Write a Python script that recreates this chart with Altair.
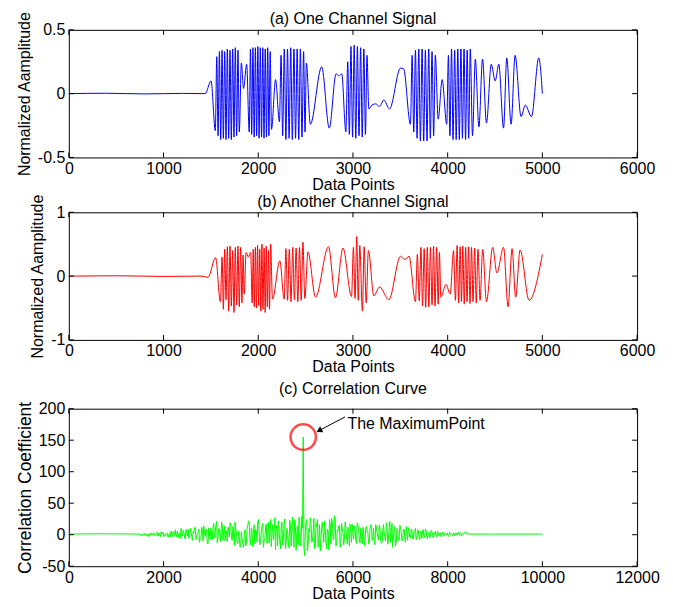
import altair as alt
import pandas as pd

FONT = "Liberation Sans"

# ---------------- (a) One Channel Signal: extrema ----------------
A_X = [0, 400, 800, 1200, 1440, 1502, 1547,
       1562, 1576, 1590, 1604, 1618, 1632, 1646, 1660, 1674, 1688, 1702, 1716, 1730, 1744, 1758, 1772, 1786, 1800,
       1822, 1845, 1878, 1905,
       1918, 1931, 1944, 1957, 1970, 1983, 1996, 2009, 2022, 2035, 2048, 2061, 2074, 2087, 2100, 2113, 2126, 2140,
       2183, 2224,
       2241, 2258, 2275, 2292, 2309, 2326, 2343, 2360, 2377, 2394, 2411, 2428, 2445, 2462, 2479, 2494, 2508, 2550,
       2670, 2750, 2822, 2852, 2882, 2925,
       2945, 2962, 2979, 2996, 3013, 3030, 3047, 3064, 3081, 3098, 3115, 3132, 3148, 3168,
       3200, 3240, 3280, 3326, 3386, 3502, 3535, 3607,
       3625, 3642, 3660, 3677, 3695, 3712, 3730, 3747, 3765, 3782, 3800, 3817, 3835, 3852, 3870, 3900, 3942, 3990,
       4008, 4024, 4041, 4057, 4074, 4090, 4107, 4123, 4140, 4156, 4173, 4189, 4206, 4222, 4239, 4262,
       4292, 4330, 4368, 4410, 4460, 4502, 4540, 4590, 4624, 4670, 4712, 4775, 4820, 4885, 4962, 5000]
A_Y = [0.0, 0.003, -0.002, 0.002, 0.0, 0.10, -0.29,
       0.29, -0.33, 0.33, -0.36, 0.34, -0.35, 0.33, -0.36, 0.35, -0.35, 0.34, -0.36, 0.35, -0.34, 0.36, -0.33, 0.34, -0.30,
       0.24, 0.04, 0.23, -0.30,
       0.35, -0.32, 0.36, -0.34, 0.36, -0.33, 0.37, -0.35, 0.36, -0.34, 0.36, -0.35, 0.35, -0.34, 0.36, -0.33, 0.33, -0.28,
       0.11, -0.22,
       0.30, -0.33, 0.35, -0.36, 0.35, -0.35, 0.36, -0.36, 0.35, -0.35, 0.35, -0.36, 0.35, -0.34, 0.33, -0.30, 0.24, -0.24,
       0.21, -0.27, 0.155, 0.14, 0.155, -0.30,
       0.25, -0.32, 0.37, -0.34, 0.38, -0.35, 0.37, -0.33, 0.36, -0.34, 0.35, -0.32, 0.30, -0.12,
       -0.09, -0.08, -0.10, -0.05, -0.12, 0.20, 0.195, -0.24,
       0.30, -0.30, 0.34, -0.35, 0.35, -0.37, 0.35, -0.37, 0.34, -0.37, 0.35, -0.35, 0.33, -0.33, 0.30, -0.20, 0.11, -0.24,
       0.30, -0.33, 0.35, -0.36, 0.34, -0.36, 0.35, -0.36, 0.35, -0.35, 0.35, -0.36, 0.34, -0.35, 0.35, -0.33,
       0.27, -0.26, 0.27, -0.23, 0.23, 0.10, 0.23, -0.27, 0.28, -0.24, 0.30, -0.18, -0.09, -0.18, 0.28, 0.0]

# ---------------- (b) Another Channel Signal ----------------
B_X = [0, 500, 1000, 1400, 1470, 1550, 1600,
       1618, 1632, 1646, 1660, 1674, 1688, 1702, 1716, 1730, 1744, 1758, 1772, 1786, 1800, 1814, 1828, 1840, 1852,
       1872, 1895, 1920, 1936,
       1947, 1958, 1970, 1981, 1993, 2004, 2016, 2027, 2039, 2050, 2062, 2073, 2085, 2096, 2108, 2119, 2131, 2150,
       2228, 2274,
       2292, 2310, 2328, 2346, 2364, 2382, 2400, 2418, 2436, 2454, 2472, 2492, 2525, 2605, 2742, 2815, 2895, 2985,
       3005, 3022, 3040, 3056, 3072, 3100, 3118, 3140, 3163, 3221, 3281, 3379, 3502, 3547, 3592, 3660,
       3680, 3700, 3718, 3735, 3752, 3768, 3785, 3802, 3818, 3835, 3851, 3867, 3884, 3900, 3913, 3928, 3982, 4027,
       4062, 4082, 4100, 4116, 4132, 4146, 4160, 4175, 4190, 4205, 4220, 4236, 4252, 4268, 4285, 4302, 4320, 4342,
       4370, 4410, 4475, 4520, 4590, 4638, 4680, 4718, 4765, 4860, 5000]
B_Y = [0.0, 0.005, -0.005, 0.0, -0.02, 0.29, -0.40,
       0.30, -0.52, 0.42, -0.37, 0.46, -0.55, 0.47, -0.47, 0.40, -0.57, 0.45, -0.45, 0.47, -0.48, 0.45, -0.42, 0.33, -0.28,
       0.37, 0.30, 0.37, -0.42,
       0.42, -0.48, 0.45, -0.50, 0.48, -0.46, 0.42, -0.55, 0.50, -0.52, 0.44, -0.57, 0.47, -0.48, 0.40, -0.52, 0.50, -0.36,
       0.24, -0.36,
       0.43, -0.38, 0.42, -0.40, 0.45, -0.37, 0.44, -0.40, 0.45, -0.38, 0.53, -0.35, 0.38, -0.33, 0.46, -0.34, 0.44, -0.32,
       0.45, -0.35, 0.62, -0.38, 0.48, -0.55, 0.46, -0.42, 0.40, -0.31, -0.17, -0.37, 0.31, 0.26, 0.31, -0.40,
       0.34, -0.39, 0.45, -0.47, 0.43, -0.49, 0.45, -0.48, 0.45, -0.45, 0.47, -0.47, 0.45, -0.44, 0.37, -0.33, -0.13, -0.28,
       0.40, -0.38, 0.48, -0.42, 0.46, -0.40, 0.47, -0.44, 0.45, -0.40, 0.46, -0.43, 0.45, -0.40, 0.44, -0.42, 0.42, -0.38,
       0.42, -0.40, 0.45, 0.05, 0.45, -0.48, 0.43, -0.33, 0.41, -0.38, 0.34]

# ---------------- (c) Correlation Curve ----------------
C_X_HEAD = [0, 700, 1500]
C_Y_HEAD = [1, 1.5, 1]
C_X_START, C_X_STEP = 1530, 30          # sample spacing of the noisy part
C_Y_BODY = [
    -2, 1, -1, 2, 0, -3, 1, 3, 0, 2,
    -1, 4, -2, 1, 5, 2, -3, -1, 3, -4,
    2, 6, -3, 4, 8, 1, -5, 3, 10, -2,
    5, -7, 2, 9, -4, 6, -9, 3, 12, -6,
    4, -12, -5, 8, 14, -3, 6, -15, 2, 10,
    -8, 18, 4, 21, -6, 9, -11, 16, 3, -10,
    6, 12, -4, 17, -9, 2, 20, 5, -14, -3,
    -18, -7, -20, 8, -12, 15, 19, -16, 4, 10,
    -15, 6, 21, 3, -10, 14, -20, -6, 17, 9,
    -13, 24, 2, -8, 27, 12, -18, 6, -22, 20,
    -9, 25, -14, 4, -21, 16, 8, -6, 24, -25,
    14, 28, -18, 30,
    155,
    -33, 22, -26, 10, 27,
    -12, 6, -22, 18, 24, -8, -26, 12, 3, 22,
    -14, 9, -24, 15, 26, -4, 30, -18, 8, 14,
    -20, 18, 4, -8, 12, -15, 6, 17, -12, 2,
    14, -9, 19, 8, -13, -4, 12, -17, 10, 4,
    -15, 9, 13, -6, -12, 16, 2, -8, 11, -14,
    8, 3, -10, 14, -6, 21, 5, -20, 12, -18,
    10, -9, 15, 2, -6, 9, -12, 6, 11, -4,
    8, -6, 3, 10, -4, 6, -8, 2, 7, -5,
    9, -3, 4, -5, 7, 1, -2, 5, -4, 3,
    2, -3, 4, -1, 3, 0, -2, 4, 1, -2,
    3, 0, 1, 4, -1, 2, 0, 3, 5, 1, 2, 1]
# samples lying half-way between the ones above (x = 1545, 1575, ...)
C_X_MID_START = 1545
C_Y_MID = [
    1, -1, 2, -2, 1, 2, -1, 0, 3, -1,
    2, -2, 3, -3, 1, 4, 0, 2, -2, 1,
    -3, 2, 5, -1, -4, 6, 2, -6, 4, 7,
    -4, 8, -2, -6, 10, -3, 5, 11, -8, 3,
    9, -6, 12, -10, 5, 9, -14, 11, -7, -3,
    12, -5, 15, -13, 10, 3, 20, -9, 14, 5,
    -11, 7, 19, -6, 13, -17, 9, -12, 6, -20,
    5, -14, 2, -18, 10, 22, -8, 11, -19, 16,
    8, -12, 24, -16, 5, 18, -9, 12, -14, 20,
    10, -19, 16, 7, -24, 15, 22, -10, 9, -16,
    18, -22, 10, -12, 23, -18, 28, -20, 12, 5,
    -16, 22, -12, 10,
    -20, 6, 24, -15, 4,
    18, -10, 26, -18, 12, -20, 16, -5, 20, -12,
    11, -22, 6, 24, -15, 19, -8, 25, -14, 6,
    15, -12, 10, -16, 20, -4, 12, -18, 9, 16,
    -7, 11, -14, 16, -6, 10, -15, 7, -9, 13,
    5, -12, 16, -9, 10, -16, 12, -4, 15, -8,
    -12, 16, -4, 19, -15, 11, -12, 18, -8, 13,
    -12, 6, -8, 12, -10, 4, -6, 13, -9, 7,
    -5, 9, -7, 4, -8, 8, -3, 6, -6, 8,
    -4, 6, -6, 2, -3, 5, -5, 4, -2, 6,
    -2, 3, -3, 4, -2, 2, 3, -3, 2, -1,
    1, -2, 3, -1, 2, 3, -2, 1, 2, 4, 0, 2]
C_X_TAIL = [9000, 10000]
C_Y_TAIL = [1, 1]

A_XTICKS = [0, 1000, 2000, 3000, 4000, 5000, 6000]
A_YTICKS = [-0.5, 0, 0.5]
B_YTICKS = [-1, 0, 1]
C_XTICKS = [0, 2000, 4000, 6000, 8000, 10000, 12000]
C_YTICKS = [-50, 0, 50, 100, 150, 200]

TITLES = ["(a) One Channel Signal", "(b) Another Channel Signal", "(c) Correlation Curve"]
PEAK = {"x": [4950], "y": [155]}
ARROW = {"x": [5833], "y": [187], "x2": [5304], "y2": [166]}
ARROW_HEAD = {"x": [5304], "y": [166]}
LABEL = {"x": [5884], "y": [175.6], "t": ["The MaximumPoint"]}

W, H_AB, H_C = 570, 128, 158
GAP_AB, GAP_BC = 55, 69


def x_axis(vals):
    return alt.Axis(values=vals, labelExpr="'' + datum.value", title="Data Points",
                    tickSize=0, labelPadding=3, labelFontSize=16, titleFontSize=16,
                    titleFontWeight="normal", titlePadding=0, domain=False, grid=False,
                    labelFlush=False, labelColor="black", titleColor="black")


def y_axis(vals, title, tpad, tsize):
    return alt.Axis(values=vals, labelExpr="'' + datum.value", title=title,
                    tickSize=0, labelPadding=4, labelFontSize=16, titleFontSize=tsize,
                    titleFontWeight="normal", titlePadding=tpad, domain=False, grid=False,
                    labelColor="black", titleColor="black")


def tick_layers(xt, yt, xs, ys, xa, ya, w, h):
    dx = pd.DataFrame({"v": xt})
    dy = pd.DataFrame({"v": yt})
    L = []
    for a, b in [(h, h - 5), (0, 5)]:
        L.append(alt.Chart(dx).mark_rule(color="black", strokeWidth=1).encode(
            x=alt.X("v:Q", scale=xs, axis=xa), y=alt.value(a), y2=alt.value(b)))
    for a, b in [(0, 5), (w, w - 5)]:
        L.append(alt.Chart(dy).mark_rule(color="black", strokeWidth=1).encode(
            y=alt.Y("v:Q", scale=ys, axis=ya), x=alt.value(a), x2=alt.value(b)))
    return L


def title_layer(text, off):
    return alt.Chart(pd.DataFrame({"t": [text]})).mark_text(
        fontSize=16, color="black", align="center", baseline="bottom").encode(
        x=alt.value(W / 2), y=alt.value(-off), text="t:N")


def signal_panel(xs_, ys_, color, ttl, yticks, ydom, ttl_off):
    xs = alt.Scale(domain=[0, 6000], nice=False, zero=False)
    ysc = alt.Scale(domain=ydom, nice=False, zero=False)
    xa = x_axis(A_XTICKS)
    ya = y_axis(yticks, "Normalized Aamplitude", 5, 16)
    df = pd.DataFrame({"x": xs_, "y": ys_})
    line = alt.Chart(df).mark_line(color=color, strokeWidth=1, interpolate="monotone").encode(
        x=alt.X("x:Q", scale=xs, axis=xa),
        y=alt.Y("y:Q", scale=ysc, axis=ya))
    return alt.layer(line, *tick_layers(A_XTICKS, yticks, xs, ysc, xa, ya, W, H_AB),
                     title_layer(ttl, ttl_off)).properties(width=W, height=H_AB)


def spacer(h):
    return alt.Chart(pd.DataFrame({"v": [0]})).mark_point(opacity=0).encode(
        x=alt.value(0), y=alt.value(0)).properties(
        width=W, height=h, view=alt.ViewBackground(strokeOpacity=0))


chart_a = signal_panel(A_X, A_Y, "#0000ff", TITLES[0], A_YTICKS, [-0.5, 0.5], 3)
chart_b = signal_panel(B_X, B_Y, "#ff0000", TITLES[1], B_YTICKS, [-1, 1], 2)

c_x = (C_X_HEAD + [C_X_START + i * C_X_STEP for i in range(len(C_Y_BODY))]
       + [C_X_MID_START + i * C_X_STEP for i in range(len(C_Y_MID))] + C_X_TAIL)
c_y = C_Y_HEAD + C_Y_BODY + C_Y_MID + C_Y_TAIL
dfc = pd.DataFrame({"x": c_x, "y": c_y}).sort_values("x").reset_index(drop=True)
xsc = alt.Scale(domain=[0, 12000], nice=False, zero=False)
ysc = alt.Scale(domain=[-50, 200], nice=False, zero=False)
xac = x_axis(C_XTICKS)
yac = y_axis(C_YTICKS, "Correlation Coefficient", 4, 17.5)
enc = dict(x=alt.X("x:Q", scale=xsc, axis=xac), y=alt.Y("y:Q", scale=ysc, axis=yac))
line_c = alt.Chart(dfc).mark_line(color="#00ff00", strokeWidth=1).encode(**enc)
circle = alt.Chart(pd.DataFrame(PEAK)).mark_point(shape="circle", size=650, filled=False,
                                                  color="#ff0000", strokeWidth=2.5).encode(**enc)
arrow = alt.Chart(pd.DataFrame(ARROW)).mark_rule(color="black", strokeWidth=1).encode(
    x2="x2:Q", y2="y2:Q", **enc)
head = alt.Chart(pd.DataFrame(ARROW_HEAD)).mark_point(shape="triangle", angle=242, size=45, filled=True,
                                                      color="black", opacity=1).encode(**enc)
label = alt.Chart(pd.DataFrame(LABEL)).mark_text(align="left", baseline="middle", fontSize=16,
                                                 color="black").encode(text="t:N", **enc)

chart_c = alt.layer(line_c, circle, arrow, head, label,
                    *tick_layers(C_XTICKS, C_YTICKS, xsc, ysc, xac, yac, W, H_C),
                    title_layer(TITLES[2], 12)).properties(width=W, height=H_C)

chart = alt.vconcat(chart_a, spacer(GAP_AB), chart_b, spacer(GAP_BC), chart_c,
                    spacing=0, bounds="flush").properties(
    padding={"left": 7, "top": 1, "right": 5, "bottom": 2}
).configure(font=FONT).configure_view(stroke="black", strokeWidth=1)

chart.save("out.html", embed_options={"renderer": "svg", "actions": False})
